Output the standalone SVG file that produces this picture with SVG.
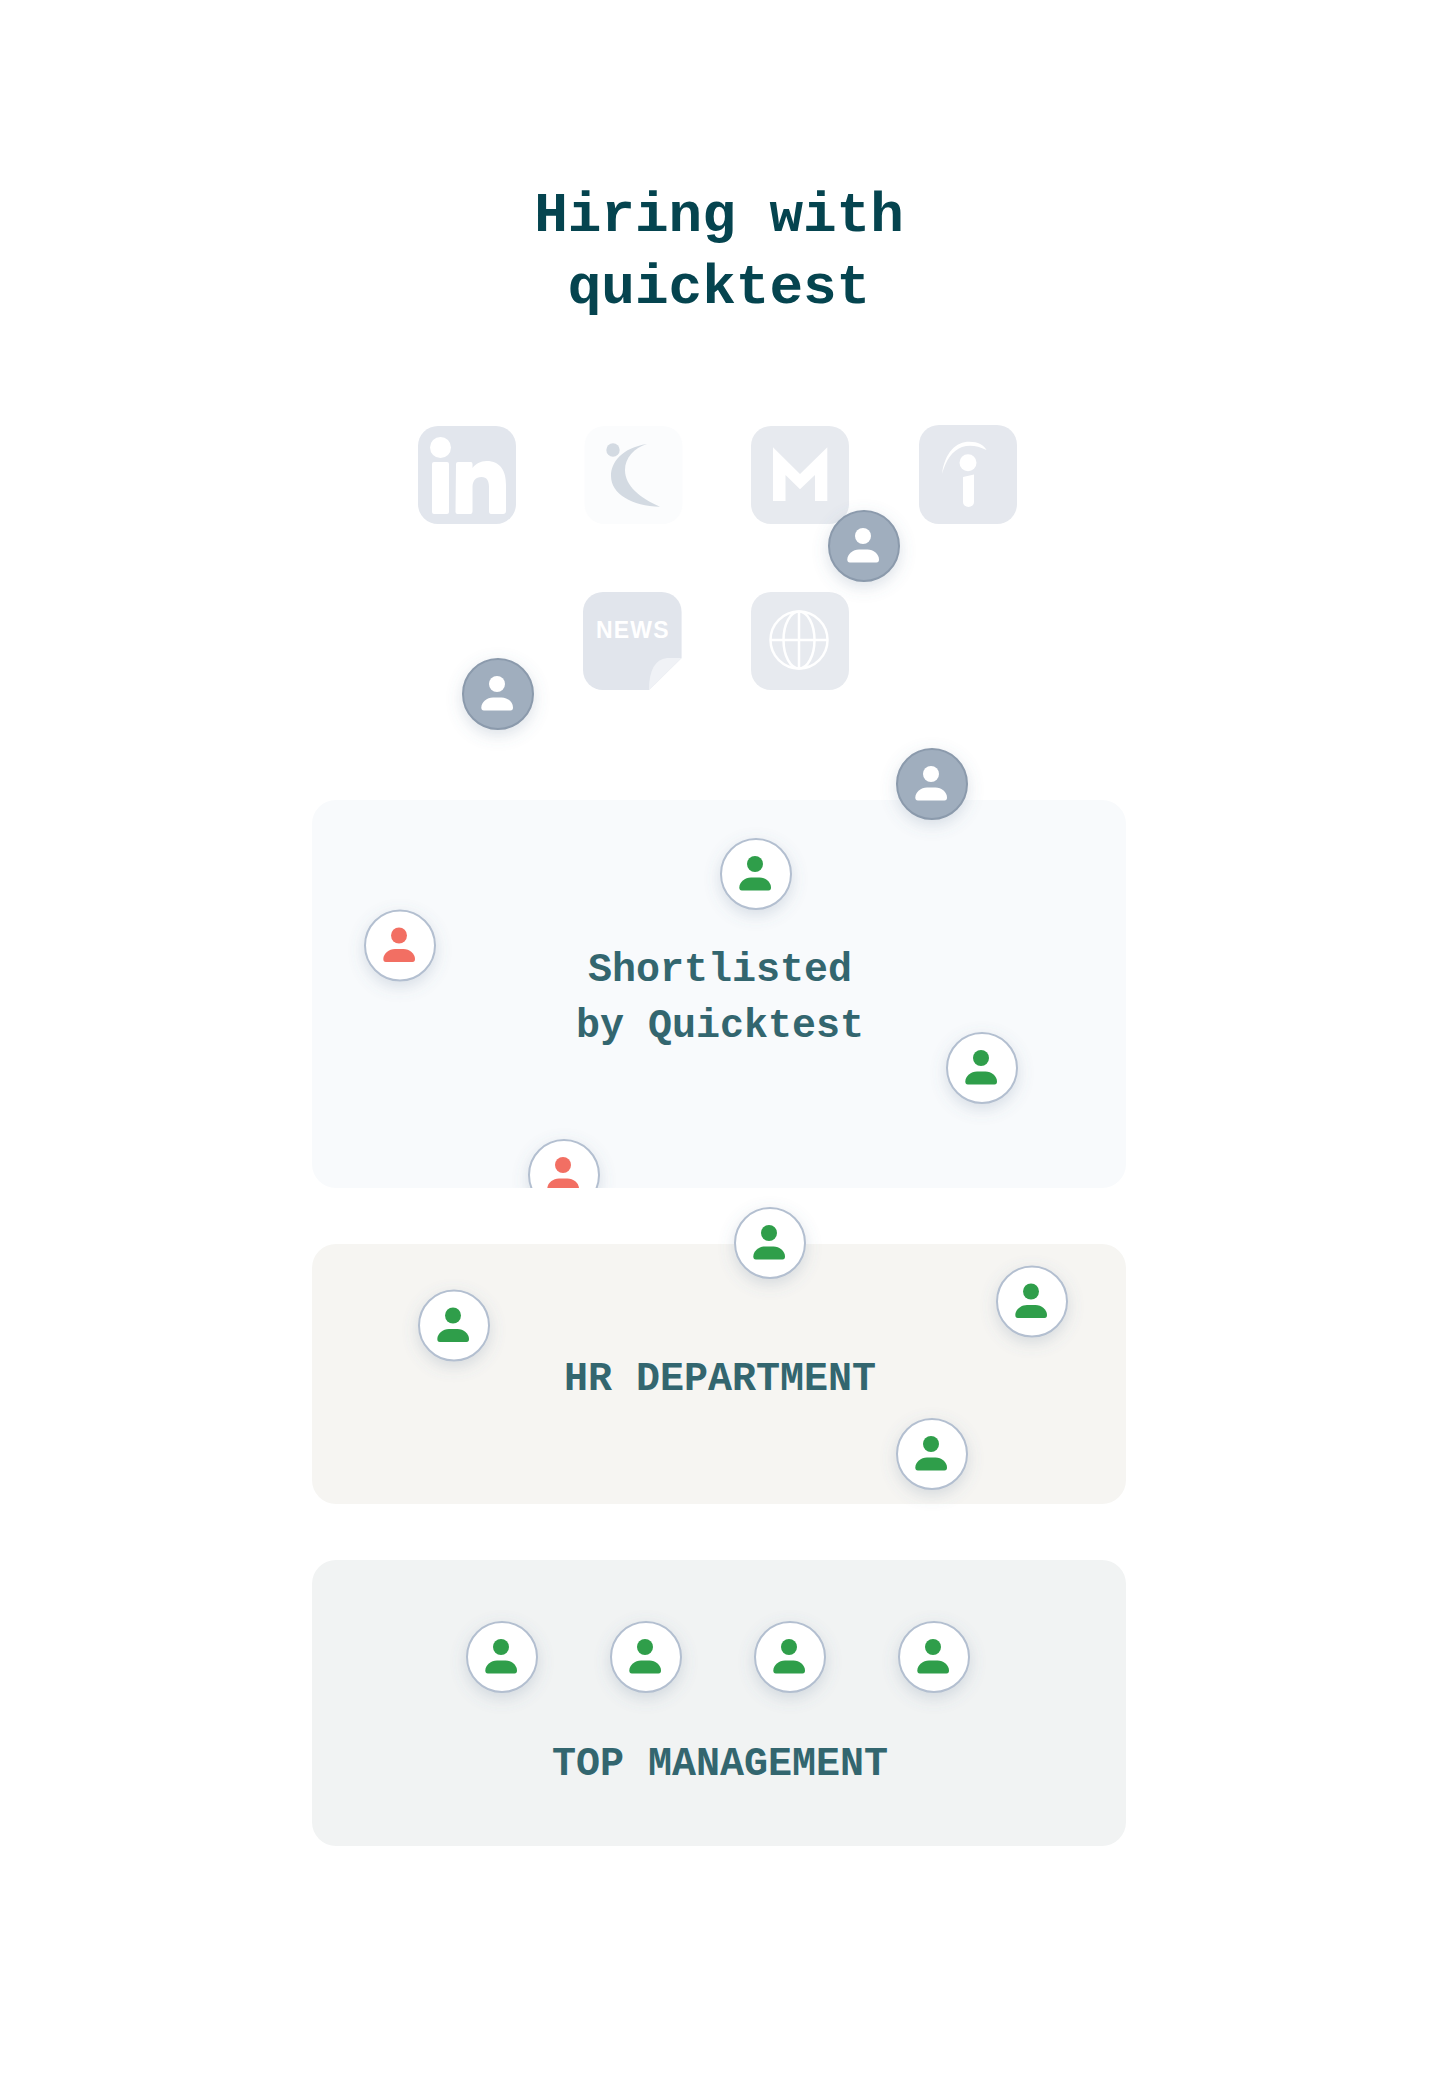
<svg xmlns="http://www.w3.org/2000/svg" width="1438" height="2094" viewBox="0 0 1438 2094">
<style>
text{font-family:"Liberation Mono","DejaVu Sans Mono",monospace;text-anchor:middle}
.title{font-size:56px;font-weight:700;fill:#05444f}
.label{font-size:40px;font-weight:700;fill:#33666f}
.ring{fill:#fff;stroke:#b3bfd0;stroke-width:2;filter:url(#sh)}
.ringg{fill:#a0aebe;stroke:#8b9aac;stroke-width:2;filter:url(#sh)}
.g{color:#2f9e4a}.r{color:#f26f63}.w{color:#fff}
.ic{fill:#fff}
</style>
<defs>
<filter id="sh" x="-60%" y="-60%" width="220%" height="220%"><feDropShadow dx="0" dy="5" stdDeviation="8" flood-color="#5f7590" flood-opacity="0.22"/></filter>
<g id="p"><circle cx="-1" cy="-10" r="8" fill="currentColor"/><path d="M-16.700,13.500C-16.700,8 -11,3.400 -5,3.400H3.500C9.500,3.400 15,8 15,13.500Q15,16.400 12.500,16.400H-14.200Q-16.700,16.400 -16.700,13.500Z" fill="currentColor"/></g>
<clipPath id="c1"><rect x="312" y="800" width="814" height="388" rx="24"/></clipPath>
</defs>
<rect width="1438" height="2094" fill="#fff"/>
<g id="heading"><text class="title" x="719" y="231">Hiring with</text><text class="title" x="719" y="303">quicktest</text></g>
<g id="icon-linkedin"><rect x="418" y="426" width="98" height="98" rx="20" fill="#e2e6ed"/><circle cx="440.500" cy="447.500" r="10.500" class="ic"/><rect x="432" y="462" width="17" height="52" rx="2" class="ic"/><path d="M456,464q0,-2 2,-2h13q1.500,0 1.500,2v4c3,-4 8,-7 14,-7c14,0 19.500,10 19.500,24v26q0,3 -3,3h-12q-2,0 -2,-3v-24c0,-6 -2,-10 -7.500,-10c-6,0 -9,4 -9,10v24q0,3 -2,3h-13q-2,0 -2,-2Z" class="ic"/></g>
<g id="icon-moon"><rect x="584.500" y="426" width="98" height="98" rx="20" fill="#fbfcfd"/><circle cx="613" cy="450" r="6.700" fill="#d3dae2"/><path d="M647,444C622,448 611,462 611,476C611,494 632,506 660,506.700C640,498 625,486 625,470C625,458 634,448 647,444Z" fill="#d3dae2"/></g>
<g id="icon-m"><rect x="751" y="426" width="98" height="98" rx="20" fill="#e7eaef"/><path d="M773,447.300L800,474L827.300,447.300V501H815V475L800,489.300L785.500,475V501H773Z" class="ic"/></g>
<g id="icon-i"><rect x="919" y="425" width="98" height="99" rx="20" fill="#e5e8ee"/><path d="M942,474C945,452 956,441.700 969.400,441.700C978,441.700 984,445 986.500,450C978,446 970,444.500 962,447C952,451 946,460 942,474Z" class="ic"/><circle cx="968" cy="462.700" r="8.500" class="ic"/><path d="M963,477L974,474.500V502a5.500,5 0 0 1 -11,0Z" class="ic"/></g>
<g id="icon-news"><path d="M603,592H661.600A20,20 0 0 1 681.600,612V658L649,690H603A20,20 0 0 1 583,670V612A20,20 0 0 1 603,592Z" fill="#e1e5ec"/><path d="M681.600,658H667Q649,660 649,690Z" fill="#f0f2f6"/><text x="632.800" y="638" style="font-family:'Liberation Sans',Arial,sans-serif;font-size:23px;font-weight:700;letter-spacing:1.200px" fill="#fff">NEWS</text></g>
<g id="icon-globe"><rect x="751" y="592" width="98" height="98" rx="20" fill="#e7eaef"/><g fill="none" stroke="#fff" stroke-width="2.500"><circle cx="799" cy="640" r="28.500"/><ellipse cx="799" cy="640" rx="15.500" ry="28.500"/><path d="M799,611.500V668.500M770.500,640H827.500"/></g></g>
<g id="card-shortlisted"><rect x="312" y="800" width="814" height="388" rx="24" fill="#f8fafc"/><text class="label" x="720" y="981">Shortlisted</text><text class="label" x="720" y="1037">by Quicktest</text></g>
<g id="card-hr"><rect x="312" y="1244" width="814" height="260" rx="24" fill="#f6f5f2"/><text class="label" x="720" y="1390">HR DEPARTMENT</text></g>
<g id="card-top"><rect x="312" y="1560" width="814" height="286" rx="24" fill="#f1f3f3"/><text class="label" x="720" y="1775">TOP MANAGEMENT</text></g>
<g id="connectors"></g>
<g id="n1" transform="translate(864,546)"><circle r="35" class="ringg"/><use href="#p" class="w"/></g>
<g id="n2" transform="translate(498,694)"><circle r="35" class="ringg"/><use href="#p" class="w"/></g>
<g id="n3" transform="translate(932,784)"><circle r="35" class="ringg"/><use href="#p" class="w"/></g>
<g id="n4" transform="translate(756,874)"><circle r="35" class="ring"/><use href="#p" class="g"/></g>
<g id="n5" transform="translate(400,945.500)"><circle r="35" class="ring"/><use href="#p" class="r"/></g>
<g id="n6" transform="translate(982,1068)"><circle r="35" class="ring"/><use href="#p" class="g"/></g>
<g clip-path="url(#c1)"><g id="n7" transform="translate(564,1175)"><circle r="35" class="ring"/><use href="#p" class="r"/></g></g>
<g id="n8" transform="translate(770,1243)"><circle r="35" class="ring"/><use href="#p" class="g"/></g>
<g id="n9" transform="translate(454,1325.500)"><circle r="35" class="ring"/><use href="#p" class="g"/></g>
<g id="n10" transform="translate(1032,1301.500)"><circle r="35" class="ring"/><use href="#p" class="g"/></g>
<g id="n11" transform="translate(932,1454)"><circle r="35" class="ring"/><use href="#p" class="g"/></g>
<g id="n12" transform="translate(502,1657)"><circle r="35" class="ring"/><use href="#p" class="g"/></g>
<g id="n13" transform="translate(646,1657)"><circle r="35" class="ring"/><use href="#p" class="g"/></g>
<g id="n14" transform="translate(790,1657)"><circle r="35" class="ring"/><use href="#p" class="g"/></g>
<g id="n15" transform="translate(934,1657)"><circle r="35" class="ring"/><use href="#p" class="g"/></g>
</svg>
